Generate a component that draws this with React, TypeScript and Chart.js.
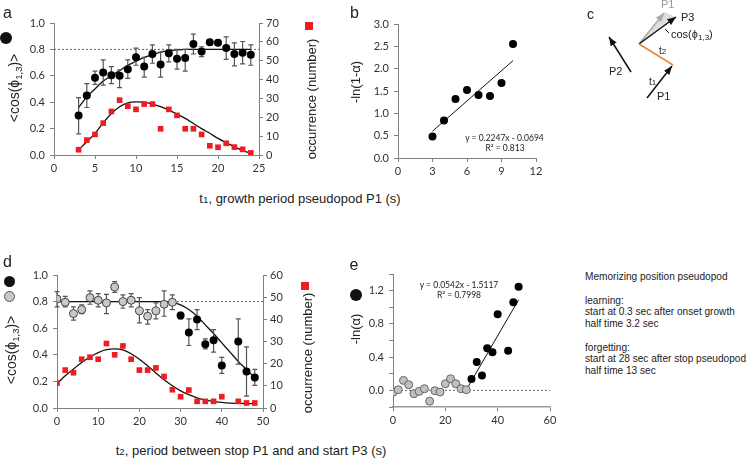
import React, { useEffect, useRef } from 'react';
import { Chart, registerables } from 'chart.js';
Chart.register(...registerables);

// ---------- Panel a : cos vs t1 ----------
const aX = [3, 4, 5, 6, 7, 8, 9, 10, 11, 12, 13, 14, 15, 16, 17, 18, 19, 20, 21, 22, 23, 24];
const aCos = [0.30, 0.45, 0.585, 0.625, 0.605, 0.60, 0.65, 0.74, 0.67, 0.765, 0.685, 0.77, 0.73, 0.735, 0.84, 0.785, 0.855, 0.85, 0.81, 0.765, 0.775, 0.76];
const aCosLo = [0.16, 0.36, 0.535, 0.53, 0.54, 0.51, 0.58, 0.68, 0.59, 0.695, 0.59, 0.705, 0.65, 0.635, 0.765, 0.745, 0.855, 0.83, 0.725, 0.675, 0.69, 0.68];
const aCosHi = [0.435, 0.54, 0.635, 0.72, 0.67, 0.645, 0.72, 0.81, 0.74, 0.835, 0.78, 0.835, 0.80, 0.80, 0.915, 0.82, 0.855, 0.87, 0.895, 0.85, 0.86, 0.835];
const aCount = [2.8, 7.9, 10.9, 16.9, 23.1, 29.1, 25.9, 24.2, 27.0, 27.0, 13.9, 24.2, 21.0, 13.9, 13.9, 10.9, 4.9, 4.1, 6.2, 4.2, 3.0, 1.1];
const aFitCosX = [3, 4, 5, 6, 7, 8, 9, 10, 11, 12, 13, 14, 15, 16, 20, 24];
const aFitCos = [0.36, 0.44, 0.50, 0.56, 0.60, 0.64, 0.68, 0.71, 0.74, 0.76, 0.78, 0.79, 0.796, 0.80, 0.80, 0.80];
const aFitCountX = [3, 4, 5, 6, 7, 8, 9, 10, 11, 12, 13, 14, 15, 16, 17, 18, 19, 20, 21, 22, 23, 24];
const aFitCount = [2.8, 7, 11.5, 17, 22, 25.6, 27.7, 28.2, 28, 27, 25.6, 23.8, 21.7, 19.4, 16.7, 14, 11.5, 8.8, 6.5, 4.4, 2.3, 0.9];
const aRefX = [0, 25];
const aRef = [0.8, 0.8];

// ---------- Panel b : -ln(1-alpha) ----------
const bX = [3, 4, 5, 6, 7, 8, 9, 10];
const bVal = [0.48, 0.84, 1.32, 1.52, 1.41, 1.39, 1.68, 2.55];
const bFitX = [3, 10];
const bFit = [0.60, 2.18];

// ---------- Panel d : cos vs t2 ----------
const dGreyX = [0, 2, 4, 6, 8, 10, 12, 14, 16, 18, 20, 22, 24, 26, 28];
const dGrey = [0.82, 0.795, 0.71, 0.74, 0.83, 0.81, 0.79, 0.91, 0.80, 0.81, 0.73, 0.69, 0.73, 0.78, 0.795];
const dGreyLo = [0.76, 0.76, 0.66, 0.71, 0.78, 0.76, 0.71, 0.87, 0.75, 0.76, 0.64, 0.63, 0.67, 0.69, 0.74];
const dGreyHi = [0.875, 0.84, 0.76, 0.775, 0.88, 0.86, 0.855, 0.95, 0.85, 0.86, 0.83, 0.74, 0.79, 0.88, 0.85];
const dBlackX = [30, 32, 34, 36, 38, 40, 44, 46, 48];
const dBlack = [0.695, 0.568, 0.665, 0.48, 0.51, 0.32, 0.50, 0.275, 0.23];
const dBlackLo = [0.67, 0.47, 0.59, 0.445, 0.42, 0.26, 0.33, 0.09, 0.17];
const dBlackHi = [0.72, 0.67, 0.74, 0.52, 0.59, 0.38, 0.67, 0.46, 0.29];
const dCountX = [0, 2, 4, 6, 8, 10, 12, 14, 16, 18, 20, 22, 24, 26, 28, 30, 32, 34, 36, 38, 40, 44, 46, 48];
const dCount = [11.25, 17.1, 15.9, 22, 22.9, 22, 29.1, 24, 28, 22, 17.1, 17.1, 18.1, 14.2, 8.25, 5.1, 8.1, 3, 3, 3, 5.1, 3, 2.25, 2.25];
const dFitCosX = [0, 10, 20, 26, 28, 30, 32, 34, 36, 38, 40, 42, 44, 46, 48];
const dFitCos = [0.8, 0.8, 0.8, 0.8, 0.795, 0.775, 0.74, 0.69, 0.625, 0.56, 0.49, 0.42, 0.35, 0.29, 0.225];
const dFitCountX = [0, 2, 4, 6, 8, 10, 12, 14, 16, 18, 20, 22, 24, 26, 28, 30, 32, 34, 36, 38, 40, 42, 44, 46, 48];
const dFitCount = [11, 14.5, 17.6, 20.5, 23, 25, 26.3, 26.7, 26.2, 24.5, 22, 19, 15.8, 12.7, 10, 7.7, 6, 4.6, 3.6, 3, 2.5, 2.2, 2.1, 2, 2];
const dRefX = [0, 50];
const dRef = [0.8, 0.8];

// ---------- Panel e : -ln(alpha) ----------
const eGreyX = [0, 2, 4, 6, 8, 10, 12, 14, 16, 18, 20, 22, 24, 26, 28];
const eGrey = [-0.024, 0.008, 0.12, 0.068, -0.04, -0.012, 0.02, -0.13, -0.004, -0.02, 0.08, 0.14, 0.08, 0.02, 0.008];
const eBlackX = [30, 32, 34, 36, 38, 40, 44, 46, 48];
const eBlack = [0.136, 0.34, 0.18, 0.508, 0.46, 0.917, 0.476, 1.06, 1.248];
const eFitX = [28, 48];
const eFit = [0.006, 1.09];
const eRefX = [0, 60];
const eRef = [0, 0];

// ---------- text ----------
const sideText = [
  'Memorizing position pseudopod',
  '',
  'learning:',
  'start at 0.3 sec after onset growth',
  'half time 3.2 sec',
  '',
  'forgetting:',
  'start at 28 sec after stop pseudopod',
  'half time 13 sec',
];

const ARIAL = '"Liberation Sans", Arial, sans-serif';
const TICKFONT = { family: 'Lato, "Open Sans", sans-serif', size: 11 };
const AXIS = '#808080';
const TICKTXT = '#333333';
const RED = '#ee1c25';

const pts = (xs: number[], ys: number[]) => xs.map((x, i) => ({ x, y: ys[i] }));

const errorBars = {
  id: 'errorBars',
  beforeDatasetDraw(chart: any, args: any) {
    const ds = chart.data.datasets[args.index];
    if (!ds.errLow) return;
    const meta = args.meta;
    const ys = chart.scales[meta.yAxisID];
    const ctx = chart.ctx;
    ctx.save();
    ctx.strokeStyle = '#555';
    ctx.lineWidth = 1.2;
    meta.data.forEach((p: any, i: number) => {
      const lo = ys.getPixelForValue(ds.errLow[i]);
      const hi = ys.getPixelForValue(ds.errHigh[i]);
      ctx.beginPath();
      ctx.moveTo(p.x, lo); ctx.lineTo(p.x, hi);
      ctx.moveTo(p.x - 2.5, lo); ctx.lineTo(p.x + 2.5, lo);
      ctx.moveTo(p.x - 2.5, hi); ctx.lineTo(p.x + 2.5, hi);
      ctx.stroke();
    });
    ctx.restore();
  },
};

function axis(pos: string, min: number, max: number, step: number, fixed: number, cb?: (v: number) => string, extra: any = {}) {
  const ticks: any = {
    stepSize: step, font: TICKFONT, color: TICKTXT, autoSkip: false, maxRotation: 0,
    padding: pos === 'left' ? 5 : 3,
  };
  if (cb) ticks.callback = cb;
  return {
    type: 'linear', position: pos, min, max, ticks,
    grid: { display: true, drawOnChartArea: false, drawTicks: true, tickLength: 4, color: AXIS, tickColor: AXIS },
    border: { display: true, color: AXIS, width: 1 },
    afterFit: (s: any) => { if (pos === 'bottom') s.height = fixed; else s.width = fixed; },
    ...extra,
  };
}

const scatterPts = (data: any, color: string, style: string, extra: any = {}) => ({
  data, showLine: false, pointStyle: style, pointRadius: 4, pointHoverRadius: 4,
  backgroundColor: color, borderColor: color, borderWidth: 0, ...extra,
});
const curve = (data: any, extra: any = {}) => ({
  data, showLine: true, pointRadius: 0, borderColor: '#111', borderWidth: 1.3,
  cubicInterpolationMode: 'monotone', fill: false, ...extra,
});
const dotted = (data: any, extra: any = {}) => ({
  data, showLine: true, pointRadius: 0, borderColor: '#666', borderWidth: 1,
  borderDash: [2, 2], fill: false, ...extra,
});

const baseOpts = (padding: any, scales: any) => ({
  responsive: false, animation: false, devicePixelRatio: 1, events: [],
  layout: { padding },
  plugins: { legend: { display: false }, tooltip: { enabled: false } },
  scales,
});

const f1 = (v: number) => Number(v).toFixed(1);
const f0 = (v: number) => String(Math.round(v));

const Txt = ({ x, y, size, rot, children, color, family }: any) => (
  <div style={{
    position: 'absolute', left: x, top: y, fontSize: size, lineHeight: 1, whiteSpace: 'nowrap',
    fontFamily: family || ARIAL, color: color || '#222',
    transform: `translate(-50%,-50%)${rot ? ' rotate(-90deg)' : ''}`,
  }}>{children}</div>
);
const Dot = ({ x, y, d, fill, border }: any) => (
  <div style={{
    position: 'absolute', left: x - d / 2, top: y - d / 2, width: d, height: d, borderRadius: '50%',
    background: fill, boxSizing: 'border-box', border: border ? `1px solid ${border}` : 'none',
  }} />
);
const Sq = ({ x, y, s }: any) => (
  <div style={{ position: 'absolute', left: x, top: y, width: s, height: s, background: RED }} />
);
const Sub = ({ children }: any) => (
  <span style={{ fontSize: '0.68em', verticalAlign: '-0.3em', lineHeight: 0 }}>{children}</span>
);
const CosT = () => (<span>&lt;cos(ϕ<Sub>1,3</Sub>)&gt;</span>);

export default function App() {
  const ra = useRef<HTMLCanvasElement>(null);
  const rb = useRef<HTMLCanvasElement>(null);
  const rd = useRef<HTMLCanvasElement>(null);
  const re = useRef<HTMLCanvasElement>(null);

  useEffect(() => {
    const charts: Chart[] = [];
    charts.push(new Chart(ra.current as any, {
      type: 'scatter',
      data: {
        datasets: [
          scatterPts(pts(aX, aCos), '#000', 'circle', { yAxisID: 'y', errLow: aCosLo, errHigh: aCosHi }),
          scatterPts(pts(aX, aCount), RED, 'rect', { yAxisID: 'y2' }),
          curve(pts(aFitCosX, aFitCos), { yAxisID: 'y' }),
          curve(pts(aFitCountX, aFitCount), { yAxisID: 'y2' }),
          dotted(pts(aRefX, aRef), { yAxisID: 'y' }),
        ] as any,
      },
      options: baseOpts({ top: 23, left: 0, right: 0, bottom: 0 }, {
        x: axis('bottom', 0, 25, 5, 30),
        y: axis('left', 0, 1, 0.2, 54, f1),
        y2: axis('right', 0, 70, 10, 41, f0),
      }) as any,
      plugins: [errorBars],
    }));

    charts.push(new Chart(rb.current as any, {
      type: 'scatter',
      data: {
        datasets: [
          scatterPts(pts(bX, bVal), '#000', 'circle'),
          curve(pts(bFitX, bFit), { borderWidth: 1 }),
        ] as any,
      },
      options: baseOpts({ top: 24, left: 0, right: 14, bottom: 0 }, {
        x: axis('bottom', 0, 12, 3, 27),
        y: axis('left', 0, 3, 0.5, 68, f1),
      }) as any,
    }));

    charts.push(new Chart(rd.current as any, {
      type: 'scatter',
      data: {
        datasets: [
          scatterPts(pts(dBlackX, dBlack), '#000', 'circle', { yAxisID: 'y', errLow: dBlackLo, errHigh: dBlackHi }),
          scatterPts(pts(dGreyX, dGrey), '#c8c8c8', 'circle', { yAxisID: 'y', borderColor: '#444', borderWidth: 1, errLow: dGreyLo, errHigh: dGreyHi }),
          scatterPts(pts(dCountX, dCount), RED, 'rect', { yAxisID: 'y2' }),
          curve(pts(dFitCosX, dFitCos), { yAxisID: 'y' }),
          curve(pts(dFitCountX, dFitCount), { yAxisID: 'y2' }),
          dotted(pts(dRefX, dRef), { yAxisID: 'y' }),
        ] as any,
      },
      options: baseOpts({ top: 25, left: 0, right: 0, bottom: 0 }, {
        x: axis('bottom', 0, 50, 10, 27),
        y: axis('left', 0, 1, 0.2, 57, f1),
        y2: axis('right', 0, 60, 10, 37, f0),
      }) as any,
      plugins: [errorBars],
    }));

    charts.push(new Chart(re.current as any, {
      type: 'scatter',
      data: {
        datasets: [
          scatterPts(pts(eBlackX, eBlack), '#000', 'circle'),
          scatterPts(pts(eGreyX, eGrey), '#c0c0c0', 'circle', { borderColor: '#666', borderWidth: 1 }),
          curve(pts(eFitX, eFit), { borderWidth: 1 }),
          dotted(pts(eRefX, eRef)),
        ] as any,
      },
      options: baseOpts({ top: 24, left: 0, right: 15, bottom: 0 }, {
        x: axis('bottom', 0, 60, 20, 28, f0, { border: { display: true, color: '#999', width: 1.5 } }),
        y: axis('left', -0.2, 1.4, 0.2, 63, (v: number) => {
          const k = Math.round(v * 10);
          return k >= 0 && k % 4 === 0 ? (k / 10).toFixed(1) : '';
        }),
      }) as any,
    }));

    return () => charts.forEach((c) => c.destroy());
  }, []);

  const cv = (ref: any, x: number, y: number, w: number, h: number) => (
    <canvas ref={ref} width={w} height={h} style={{ position: 'absolute', left: x, top: y, width: w, height: h }} />
  );

  return (
    <div style={{ position: 'fixed', left: 0, top: 0, width: 750, height: 459, background: '#fff', overflow: 'hidden' }}>
      {cv(ra, 0, 0, 300, 185)}
      {cv(rb, 330, 0, 220, 185)}
      {cv(rd, 0, 250, 300, 185)}
      {cv(re, 330, 250, 235, 185)}

      {/* panel labels */}
      <Txt x={7.5} y={12.7} size={16}>a</Txt>
      <Txt x={354.5} y={13} size={16}>b</Txt>
      <Txt x={590.5} y={13.7} size={14}>c</Txt>
      <Txt x={7.5} y={262} size={16}>d</Txt>
      <Txt x={354} y={265} size={16}>e</Txt>

      {/* legend markers */}
      <Dot x={6} y={37.5} d={12} fill="#111" />
      <Sq x={305} y={22} s={8} />
      <Dot x={9.3} y={281.7} d={11.5} fill="#111" />
      <Dot x={9.3} y={296.7} d={11.5} fill="#c8c8c8" border="#555" />
      <Sq x={301} y={282} s={8} />
      <Dot x={355.7} y={295} d={12} fill="#111" />

      {/* axis titles */}
      <Txt x={14} y={88} size={14} rot><CosT /></Txt>
      <Txt x={310.5} y={98.5} size={13} rot>occurrence (number)</Txt>
      <Txt x={355} y={82} size={13} rot>-ln(1-α)</Txt>
      <Txt x={11} y={350} size={14} rot><CosT /></Txt>
      <Txt x={307} y={353} size={13} rot>occurrence (number)</Txt>
      <Txt x={355} y={329} size={13} rot>-ln(α)</Txt>
      <Txt x={300} y={198} size={13}>t<span style={{ fontSize: '0.75em' }}>1</span>, growth period pseudopod P1 (s)</Txt>
      <Txt x={251} y={450} size={13}>t<span style={{ fontSize: '0.75em' }}>2</span>, period between stop P1 and and start P3 (s)</Txt>

      {/* equations */}
      <Txt x={504.5} y={138} size={8.5} family='Lato, sans-serif'>y = 0.2247x - 0.0694</Txt>
      <Txt x={505} y={148} size={8.5} family='Lato, sans-serif'>R² = 0.813</Txt>
      <Txt x={459} y={285} size={8.5} family='Lato, sans-serif'>y = 0.0542x - 1.5117</Txt>
      <Txt x={459} y={295} size={8.5} family='Lato, sans-serif'>R² = 0.7998</Txt>

      {/* side text */}
      <div style={{ position: 'absolute', left: 585, top: 271, fontFamily: ARIAL, fontSize: 10.1, lineHeight: '11.75px', color: '#222', whiteSpace: 'pre' }}>
        {sideText.map((s, i) => <div key={i} style={{ height: 11.75 }}>{s}</div>)}
      </div>

      {/* panel c schematic */}
      <svg style={{ position: 'absolute', left: 570, top: 0 }} width={180} height={110} viewBox="570 0 180 110">
        <defs>
          <marker id="ahk" viewBox="0 0 10 8" refX="10" refY="4" markerWidth="9" markerHeight="7" orient="auto" markerUnits="userSpaceOnUse">
            <path d="M0,0 L10,4 L0,8 z" fill="#111" />
          </marker>
          <marker id="ahg" viewBox="0 0 10 8" refX="10" refY="4" markerWidth="9" markerHeight="7" orient="auto" markerUnits="userSpaceOnUse">
            <path d="M0,0 L10,4 L0,8 z" fill="#aaa" />
          </marker>
        </defs>
        <polygon points="639,44 664,12 676,17" fill="#dedede" />
        <line x1={639} y1={44} x2={664} y2={13} stroke="#aaa" strokeWidth={1.5} markerEnd="url(#ahg)" />
        <line x1={639} y1={44} x2={676} y2={17} stroke="#111" strokeWidth={1.5} markerEnd="url(#ahk)" />
        <line x1={639} y1={44} x2={673} y2={65} stroke="#f08a35" strokeWidth={1.8} />
        <line x1={647} y1={98} x2={672} y2={66} stroke="#111" strokeWidth={1.5} markerEnd="url(#ahk)" />
        <line x1={631} y1={72} x2={609} y2={37} stroke="#111" strokeWidth={1.5} markerEnd="url(#ahk)" />
        <line x1={665} y1={29} x2={669} y2={33} stroke="#111" strokeWidth={1} />
        <g fontFamily={ARIAL} fontSize={11} fill="#222">
          <text x={661} y={8} fill="#999">P1</text>
          <text x={681} y={21}>P3</text>
          <text x={671} y={38}>cos(ϕ<tspan fontSize={8} dy={2}>1,3</tspan><tspan dy={-2}>)</tspan></text>
          <text x={659} y={54} fontSize={10}>t<tspan fontSize={8}>2</tspan></text>
          <text x={609} y={75}>P2</text>
          <text x={649} y={85} fontSize={10}>t<tspan fontSize={8}>1</tspan></text>
          <text x={657} y={100}>P1</text>
        </g>
      </svg>
    </div>
  );
}
